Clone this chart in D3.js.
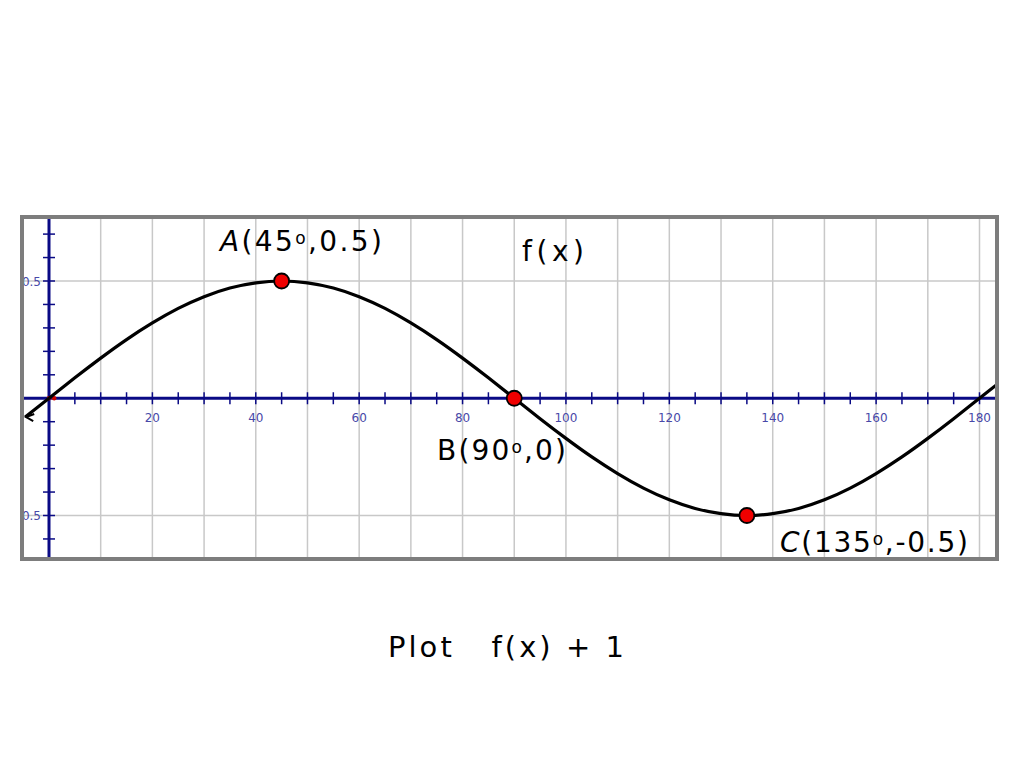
<!DOCTYPE html>
<html>
<head>
<meta charset="utf-8">
<script src="https://cdn.jsdelivr.net/npm/d3@7"></script>
<style>
  html, body { margin: 0; padding: 0; background: #fff; }
  svg { display: block; }
</style>
</head>
<body>
<svg id="chart" width="1024" height="768"></svg>
<script>
// ---- data ----
const curveX = [-4.6, 0, 5, 10, 15, 20, 25, 30, 35, 40, 45, 50, 55, 60, 65, 70, 75, 80, 85, 90,
                95, 100, 105, 110, 115, 120, 125, 130, 135, 140, 145, 150, 155, 160, 165, 170, 175, 180, 185];
const curveY = [-0.080, 0, 0.087, 0.171, 0.250, 0.321, 0.383, 0.433, 0.470, 0.492, 0.500, 0.492, 0.470, 0.433, 0.383, 0.321, 0.250, 0.171, 0.087, 0,
                -0.087, -0.171, -0.250, -0.321, -0.383, -0.433, -0.470, -0.492, -0.500, -0.492, -0.470, -0.433, -0.383, -0.321, -0.250, -0.171, -0.087, 0, 0.087];
const pointNames = ["A", "B", "C"];
const pointX = [45, 90, 135];
const pointY = [0.5, 0, -0.5];
const pointLabels = [["A", "(45", "o", ",0.5)"], ["B", "(90", "o", ",0)"], ["C", "(135", "o", ",-0.5)"]];
const xTickLabels = [20, 40, 60, 80, 100, 120, 140, 160, 180];
const xMinorTicks = d3.range(5, 181, 5);
const xGrid = d3.range(10, 181, 10);
const yTickValues = [-0.6, -0.5, -0.4, -0.3, -0.2, -0.1, 0.1, 0.2, 0.3, 0.4, 0.5, 0.6, 0.7];
const yTickLabels = [0.5, -0.5];
const yGrid = [0.5, -0.5];
const titleText = "f(x)";
const captionText = "Plot   f(x) + 1";

// ---- layout ----
const svg = d3.select("#chart");
const inner = { x0: 24, x1: 995, y0: 219, y1: 557 };
const x = d3.scaleLinear().domain([0, 180]).range([49, 979.5]);
const y = d3.scaleLinear().domain([-0.5, 0.5]).range([515.5, 281]);
const axisColor = "#0a0a85";
const labelColor = "#4848a8";
const font = "'DejaVu Sans', sans-serif";

svg.append("defs").append("clipPath").attr("id", "plotclip")
  .append("rect").attr("x", inner.x0).attr("y", inner.y0)
  .attr("width", inner.x1 - inner.x0).attr("height", inner.y1 - inner.y0);

const g = svg.append("g").attr("clip-path", "url(#plotclip)");

// grid
g.selectAll(".vgrid").data(xGrid).enter().append("line")
  .attr("x1", d => x(d)).attr("x2", d => x(d))
  .attr("y1", inner.y0).attr("y2", inner.y1)
  .attr("stroke", "#c8c8c8").attr("stroke-width", 1.5);
g.selectAll(".hgrid").data(yGrid).enter().append("line")
  .attr("x1", inner.x0).attr("x2", inner.x1)
  .attr("y1", d => y(d)).attr("y2", d => y(d))
  .attr("stroke", "#c8c8c8").attr("stroke-width", 1.5);

// axes lines
g.append("line").attr("x1", inner.x0).attr("x2", inner.x1)
  .attr("y1", y(0)).attr("y2", y(0)).attr("stroke", axisColor).attr("stroke-width", 3);
g.append("line").attr("x1", x(0)).attr("x2", x(0))
  .attr("y1", inner.y0).attr("y2", inner.y1).attr("stroke", axisColor).attr("stroke-width", 3);

// ticks
g.selectAll(".xt").data(xMinorTicks).enter().append("line")
  .attr("x1", d => x(d)).attr("x2", d => x(d))
  .attr("y1", y(0) - 6).attr("y2", y(0) + 6)
  .attr("stroke", axisColor).attr("stroke-width", 1.5);
g.selectAll(".yt").data(yTickValues).enter().append("line")
  .attr("x1", x(0) - 6).attr("x2", x(0) + 6)
  .attr("y1", d => y(d)).attr("y2", d => y(d))
  .attr("stroke", axisColor).attr("stroke-width", 1.5);

// tick labels
g.selectAll(".xl").data(xTickLabels).enter().append("text")
  .attr("x", d => x(d)).attr("y", y(0) + 24)
  .attr("text-anchor", "middle").attr("font-family", font).attr("font-size", 12)
  .attr("fill", labelColor).text(d => d);
g.selectAll(".yl").data(yTickLabels).enter().append("text")
  .attr("x", x(0) - 8).attr("y", d => y(d) + 4.5)
  .attr("text-anchor", "end").attr("font-family", font).attr("font-size", 12)
  .attr("fill", labelColor).text(d => d);

// origin tiny red dots
g.append("circle").attr("cx", x(0)).attr("cy", y(0)).attr("r", 2.2).attr("fill", "#d00000");
g.append("circle").attr("cx", x(1)).attr("cy", y(0)).attr("r", 2.2).attr("fill", "#d00000");

// curve
const curveData = curveX.map((d, i) => [d, curveY[i]]);
const line = d3.line().x(d => x(d[0])).y(d => y(d[1])).curve(d3.curveNatural);
g.append("path").datum(curveData).attr("d", line)
  .attr("fill", "none").attr("stroke", "#000").attr("stroke-width", 3.2);

// small arrowhead at left end of curve
const ax = x(curveX[0]) + 1, ay = y(curveY[0]);
g.append("path")
  .attr("d", `M${ax + 8},${ay - 3} L${ax},${ay} L${ax + 7},${ay + 4}`)
  .attr("fill", "none").attr("stroke", "#000").attr("stroke-width", 2);

// points
svg.selectAll(".pt").data(pointX).enter().append("circle")
  .attr("cx", d => x(d)).attr("cy", (d, i) => y(pointY[i])).attr("r", 7.5)
  .attr("fill", "#f00000").attr("stroke", "#000").attr("stroke-width", 1.8);

// border
svg.append("rect").attr("x", 22).attr("y", 217).attr("width", 975).attr("height", 342)
  .attr("fill", "none").attr("stroke", "#7d7d7d").attr("stroke-width", 4);

// point labels
const labelPos = [[220, 251], [437, 460], [780, 552]];
const labelWidths = [162, 129, 188];
pointLabels.forEach((parts, i) => {
  const t = svg.append("text").attr("x", labelPos[i][0]).attr("y", labelPos[i][1])
    .attr("font-family", font).attr("font-size", 28).attr("fill", "#000")
    .attr("textLength", labelWidths[i]).attr("lengthAdjust", "spacing");
  t.append("tspan").attr("font-style", i === 1 ? "normal" : "italic").text(parts[0]);
  t.append("tspan").text(parts[1]);
  t.append("tspan").attr("font-size", 17).attr("dy", -7).text(parts[2]);
  t.append("tspan").attr("dy", 7).text(parts[3]);
});

// f(x) title
svg.append("text").attr("x", 522).attr("y", 261)
  .attr("font-family", font).attr("font-size", 28).attr("fill", "#000")
  .attr("textLength", 62).attr("lengthAdjust", "spacing").text(titleText);

// caption
svg.append("text").attr("x", 388).attr("y", 657)
  .attr("font-family", font).attr("font-size", 29).attr("fill", "#000")
  .attr("xml:space", "preserve").style("white-space", "pre")
  .attr("textLength", 236).attr("lengthAdjust", "spacing").text(captionText);
</script>
</body>
</html>
